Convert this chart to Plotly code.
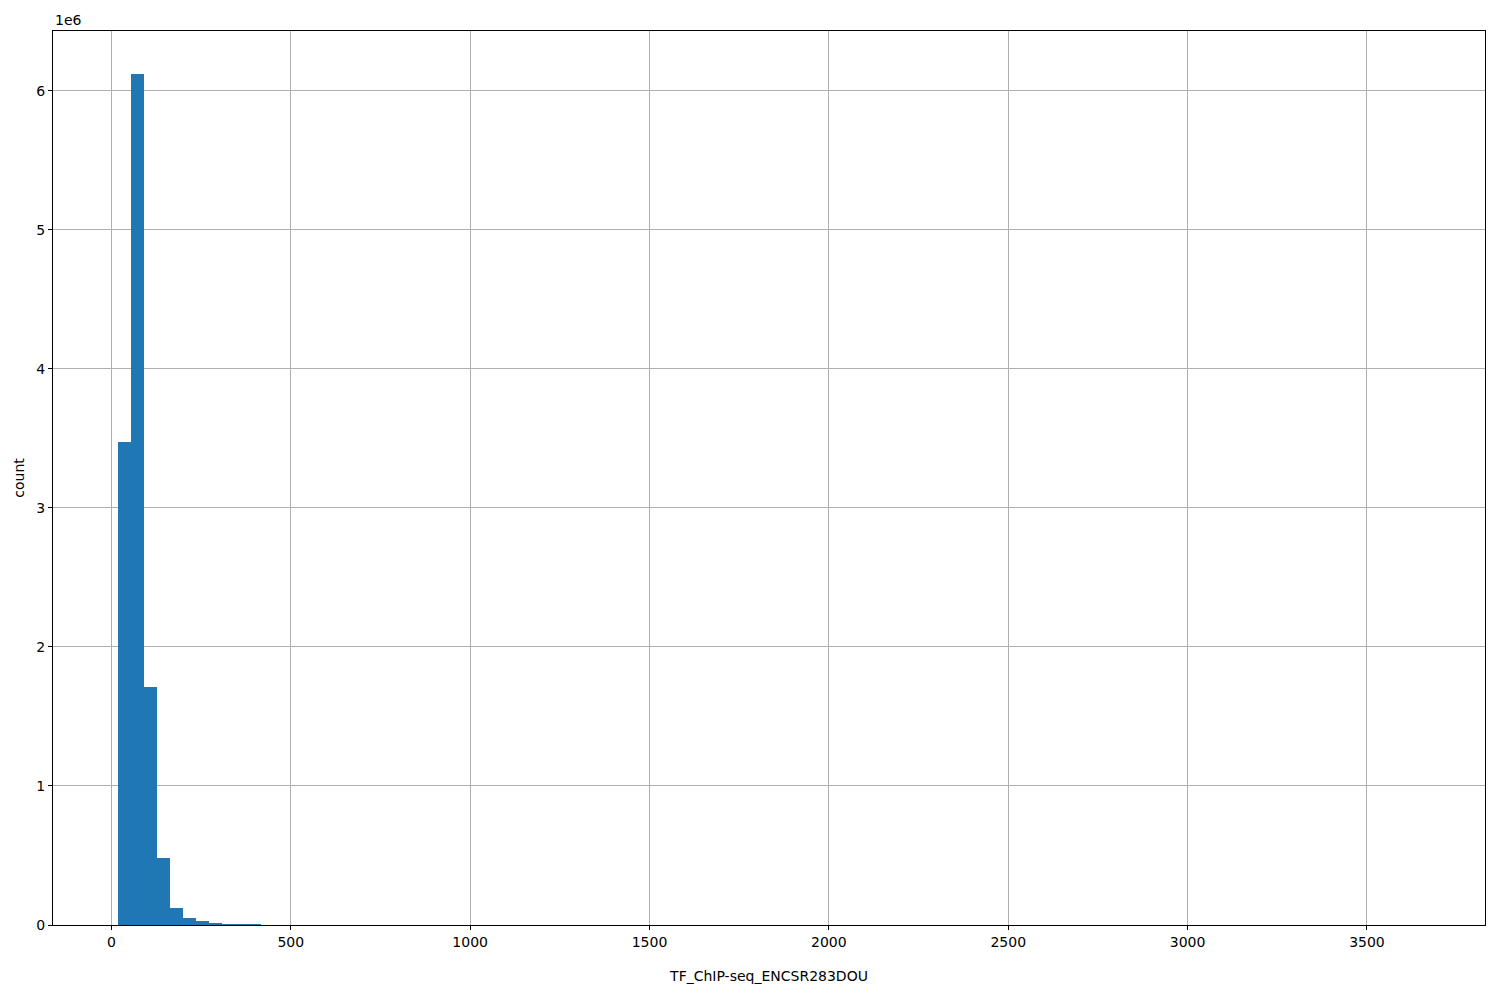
import plotly.graph_objects as go

# Histogram data
x_min = 18.6
x_max = 3647.6
n_bins = 100
counts = [3471000, 6124000, 1710000, 481000, 122000, 50000, 29000, 14000, 7000, 6000,
          5000, 8, 6, 5, 4, 3, 3, 2, 2, 2,
          1, 1, 1, 1, 1, 0, 1, 0, 1, 0,
          1, 0, 0, 1, 0, 0, 1, 0, 0, 0,
          1, 0, 0, 0, 1, 0, 0, 0, 0, 1,
          0, 0, 0, 0, 0, 1, 0, 0, 0, 0,
          0, 0, 1, 0, 0, 0, 0, 0, 0, 0,
          1, 0, 0, 0, 0, 0, 0, 0, 0, 0,
          0, 1, 0, 0, 0, 0, 0, 0, 0, 0,
          0, 0, 0, 0, 0, 0, 0, 0, 0, 1]
x_ticks = [0, 500, 1000, 1500, 2000, 2500, 3000, 3500]
y_ticks = [0, 1e6, 2e6, 3e6, 4e6, 5e6, 6e6]
y_tick_text = ["0", "1", "2", "3", "4", "5", "6"]
x_label = "TF_ChIP-seq_ENCSR283DOU"
y_label = "count"

width = (x_max - x_min) / n_bins
centers = [x_min + (i + 0.5) * width for i in range(n_bins)]

span = x_max - x_min
x_range = [x_min - 0.05 * span, x_max + 0.05 * span]
y_range = [0, max(counts) * 1.05]

fig = go.Figure(go.Bar(x=centers, y=counts, width=[width] * n_bins,
                       marker=dict(color="#1f77b4", line=dict(width=0))))

font = dict(family="DejaVu Sans", size=14, color="black")
axis_common = dict(showline=True, linecolor="black", linewidth=1, mirror=True,
                   showgrid=True, gridcolor="#b0b0b0", gridwidth=1,
                   zeroline=False, ticks="outside", ticklen=4, tickcolor="black",
                   tickfont=font, layer="above traces", automargin=False)

fig.update_layout(
    width=1500, height=1000,
    margin=dict(l=45, r=23, t=23, b=83),
    plot_bgcolor="white", paper_bgcolor="white",
    bargap=0, showlegend=False,
    font=font,
    xaxis=dict(range=x_range, tickvals=x_ticks, title=dict(text=x_label, font=font, standoff=22),
               **axis_common),
    yaxis=dict(range=y_range, tickvals=y_ticks, ticktext=y_tick_text,
               title=dict(text=y_label, font=font, standoff=8), **axis_common),
    annotations=[dict(text="1e6", xref="paper", yref="paper", x=0, y=1,
                      xanchor="left", yanchor="bottom", showarrow=False, font=font,
                      yshift=1)],
)

fig.write_html("out.html")
